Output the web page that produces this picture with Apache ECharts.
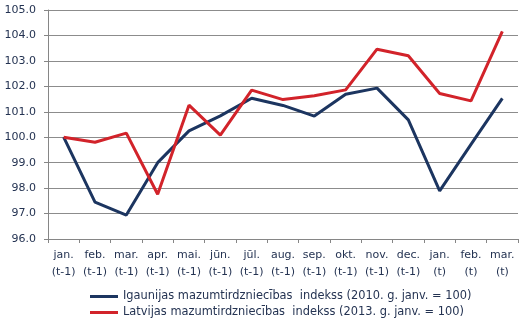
<!DOCTYPE html>
<html><head><meta charset="utf-8">
<script src="https://cdn.jsdelivr.net/npm/echarts@6/dist/echarts.min.js"></script>
<style>html,body{margin:0;padding:0;background:#fff}#c{width:523px;height:335px}</style>
</head><body><div id="c"></div>
<script>
var categories = ['jan.\n(t-1)','feb.\n(t-1)','mar.\n(t-1)','apr.\n(t-1)','mai.\n(t-1)','jūn.\n(t-1)','jūl.\n(t-1)','aug.\n(t-1)','sep.\n(t-1)','okt.\n(t-1)','nov.\n(t-1)','dec.\n(t-1)','jan.\n(t)','feb.\n(t)','mar.\n(t)'];
var estonia = [100.0, 97.45, 96.94, 99.0, 100.25, 100.84, 101.53, 101.25, 100.83, 101.69, 101.93, 100.68, 97.89, 99.72, 101.53];
var latvia = [100.0, 99.8, 100.16, 97.76, 101.26, 100.08, 101.85, 101.48, 101.63, 101.86, 103.46, 103.2, 101.72, 101.43, 104.16];
var seriesNames = ['Igaunijas mazumtirdzniecības  indekss (2010. g. janv. = 100)', 'Latvijas mazumtirdzniecības  indekss (2013. g. janv. = 100)'];
var txt = '#243352';
var font = 'DejaVu Sans';
var chart = echarts.init(document.getElementById('c'), null, {renderer:'canvas'});
chart.setOption({
  animation:false,
  grid:{left:48,right:5,top:10,bottom:96,containLabel:false},
  legend:{orient:'vertical',left:85,top:286,itemWidth:28,itemHeight:3,itemGap:5,icon:'rect',
    textStyle:{color:txt,fontFamily:font,fontSize:11.4},
    data:seriesNames},
  xAxis:{type:'category',data:categories,boundaryGap:true,
    axisLine:{lineStyle:{color:'#868686',width:1}},
    axisTick:{show:true,length:4,lineStyle:{color:'#868686'}},
    axisLabel:{color:txt,fontFamily:font,fontSize:11,lineHeight:17,margin:8,interval:0}},
  yAxis:{type:'value',min:96,max:105,interval:1,
    axisLine:{show:true,lineStyle:{color:'#868686'}},
    axisTick:{show:true,length:4,lineStyle:{color:'#868686'}},
    splitLine:{lineStyle:{color:'#8c8c8c',width:1}},
    axisLabel:{color:txt,fontFamily:font,fontSize:11,margin:12,formatter:function(v){return v.toFixed(1);}}},
  series:[
    {name:seriesNames[0],type:'line',data:estonia,symbol:'none',lineStyle:{color:'#1c3560',width:3},itemStyle:{color:'#1c3560'}},
    {name:seriesNames[1],type:'line',data:latvia,symbol:'none',lineStyle:{color:'#d2232a',width:3},itemStyle:{color:'#d2232a'}}
  ]
});
</script></body></html>
